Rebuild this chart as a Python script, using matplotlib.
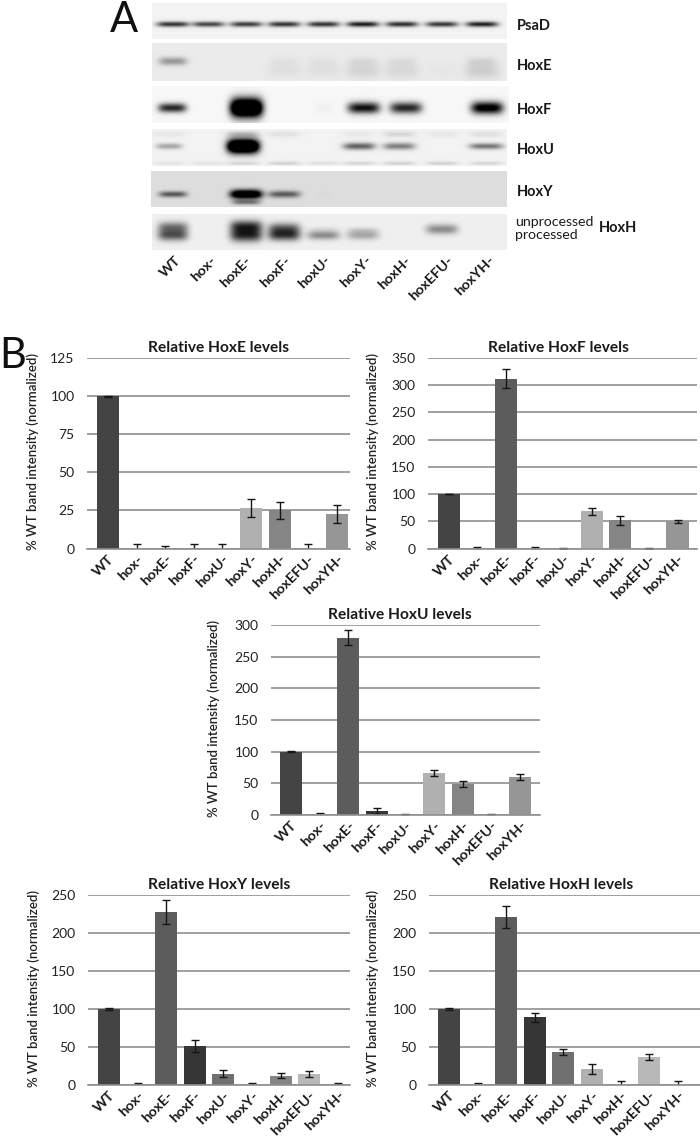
import numpy as np
import matplotlib
matplotlib.use('Agg')
import matplotlib.pyplot as plt

plt.rcParams['font.family'] = ['Lato', 'DejaVu Sans']

W, H = 700, 1139

strains = ['WT', 'hox-', 'hoxE-', 'hoxF-', 'hoxU-', 'hoxY-', 'hoxH-', 'hoxEFU-', 'hoxYH-']
bar_colors = ['#444444', '#555555', '#5c5c5c', '#363636', '#707070', '#b0b0b0', '#858585', '#b8b8b8', '#969696']

# bar chart values
hoxe_vals = [100, 0, 0, 0, 0, 26.5, 25, 0, 22.5]
hoxe_errs = [0.3, 2.8, 1.8, 3, 3, 6, 5.5, 3, 6]
hoxf_vals = [100, 0, 312, 0, 0, 68, 52, 0, 50]
hoxf_errs = [0.5, 3, 18, 3, 1, 7, 8, 1, 3]
hoxu_vals = [100, 0, 280, 6, 0, 66, 49, 0, 60]
hoxu_errs = [0.5, 3, 12, 5, 1.5, 5, 4, 1, 5]
hoxy_vals = [100, 0, 228, 51, 15, 0, 12.5, 14, 0]
hoxy_errs = [1, 2, 16, 8, 5, 3, 3, 4, 2]
hoxh_vals = [100, 0, 221, 89, 43, 21, 0, 37, 0]
hoxh_errs = [1, 2.5, 15, 6, 4, 6, 5.5, 3.5, 5.5]

hoxe_ticks = [0, 25, 50, 75, 100, 125]
hoxf_ticks = [0, 50, 100, 150, 200, 250, 300, 350]
hoxu_ticks = [0, 50, 100, 150, 200, 250, 300]
hoxy_ticks = [0, 50, 100, 150, 200, 250]
hoxh_ticks = [0, 50, 100, 150, 200, 250]

# band darkness per lane for the blots, 0 = nothing, above 1 saturates
psad_bands = [0.8, 0.72, 0.76, 0.8, 0.8, 0.9, 0.82, 0.78, 0.88]
hoxe_bands = [0.36, 0, 0, 0.03, 0.03, 0.06, 0.05, 0, 0.08]
hoxe_smear = [0, 0, 0, 0.05, 0.05, 0.1, 0.08, 0.02, 0.13]
hoxf_bands = [0.85, 0, 1.9, 0, 0.03, 0.95, 0.85, 0, 1.1]
hoxu_bands = [0.32, 0, 1.9, 0, 0, 0.6, 0.48, 0, 0.52]
hoxu_lower = [0.06, 0.06, 0.12, 0.14, 0.08, 0.12, 0.14, 0.14, 0.12]
hoxu_upper = [0.05, 0, 0.2, 0.07, 0, 0.04, 0.12, 0.05, 0.08]
hoxy_bands = [0.62, 0, 1.5, 0.6, 0.02, 0, 0, 0, 0]
hoxy_lower = [0, 0, 0.45, 0, 0, 0, 0, 0, 0]
hoxh_unproc = [0.5, 0, 0.75, 0.55, 0.05, 0.12, 0, 0.42, 0]
hoxh_proc = [0.62, 0, 0.8, 0.72, 0.42, 0.3, 0, 0, 0]

lanes = [172.7, 208.3, 246, 284, 323.3, 362.7, 401.7, 441.7, 481.7]
lanes_f = [172, 208, 246, 284, 323, 363, 405, 442, 486]
lanes_u = [169, 208, 243, 284, 323, 359, 399, 442, 486]


def px_axes(fig, left, top, right, bottom, **kw):
    return fig.add_axes([left / W, 1 - bottom / H, (right - left) / W, (bottom - top) / H], **kw)


def blot(fig, box, bg, rows):
    left, top, right, bottom = box
    ax = px_axes(fig, left, top, right, bottom)
    xs, ys = np.meshgrid(np.arange(left, right, 0.5), np.arange(top, bottom, 0.5))
    img = np.zeros(xs.shape)
    for lane_x, vals, y, half_w, sig in rows:
        half_w = np.broadcast_to(half_w, (9,))
        sig = np.broadcast_to(sig, (9,))
        y = np.broadcast_to(y, (9,))
        for i in range(9):
            if vals[i] > 0:
                img += vals[i] * np.exp(-((xs - lane_x[i]) / half_w[i]) ** 4 - ((ys - y[i]) / sig[i]) ** 2)
    img = bg * (1 - np.clip(img, 0, 1))
    ax.imshow(img, cmap='gray', vmin=0, vmax=1, extent=(left, right, bottom, top), aspect='auto', interpolation='bilinear')
    ax.axis('off')


def bars(fig, box, wt_x, ymax, vals, errs, ticks, title, title_x, label_x):
    left, top, right, bottom = box
    ax = px_axes(fig, left, top, right, bottom)
    step = 28.6
    ax.set_xlim(-(wt_x - left) / step, (right - wt_x) / step)
    ax.set_ylim(0, ymax)
    ax.set_axisbelow(True)
    ax.grid(axis='y', color='#8f8f8f', lw=1.2)
    ax.bar(range(9), vals, width=0.77, color=bar_colors)
    ax.errorbar(range(9), vals, yerr=errs, fmt='none', ecolor='#151515', elinewidth=1.0, capsize=3, capthick=1.0)
    for s in ['top', 'right', 'left']:
        ax.spines[s].set_visible(False)
    ax.spines['bottom'].set_color('#8f8f8f')
    ax.spines['bottom'].set_linewidth(1.2)
    ax.set_yticks(ticks)
    ax.set_xticks(range(9))
    ax.set_xticklabels(strains, rotation=45, ha='right', va='top', rotation_mode='anchor',
                       fontsize=10.4, fontweight='bold', color='#1a1a1a')
    ax.tick_params(axis='both', length=0)
    ax.tick_params(axis='x', pad=3)
    ax.tick_params(axis='y', labelsize=10, labelcolor='#222222', pad=9)
    ax.set_title(title, fontsize=11.2, fontweight='bold', color='#1a1a1a', pad=4,
                 x=(title_x - left) / (right - left))
    ax.set_ylabel('% WT band intensity (normalized)', fontsize=9.5, fontweight='semibold', color='#222222')
    ax.yaxis.set_label_coords((label_x - left) / (right - left), 0.51)
    return ax


fig = plt.figure(figsize=(7, 11.39), dpi=100)

# panel A
blot(fig, (152, 3, 507, 39), 0.95, [(lanes, psad_bands, 24, 16, 2.6)])
blot(fig, (152, 43, 507, 81), 0.92, [(lanes, hoxe_bands, 61, 14, 4),
                                     (lanes, hoxe_smear, 70, 17, 8)])
blot(fig, (152, 86, 508, 123), 0.97, [(lanes_f, hoxf_bands, 108,
                                       [14, 1, 16, 1, 10, 16, 16, 1, 16],
                                       [4.5, 1, 9, 1, 5, 5.5, 5.5, 1, 6])])
blot(fig, (152, 129, 507, 166), 0.95, [(lanes_u, hoxu_bands, 146,
                                        [13, 1, 16, 1, 1, 16, 16, 1, 17],
                                        [3, 1, 7, 1, 1, 3.5, 3.5, 1, 3]),
                                       (lanes_u, hoxu_lower, 163, 16, 1.8),
                                       (lanes_u, hoxu_upper, 134, 16, 3)])
blot(fig, (151, 171, 507, 207), 0.87, [(lanes, hoxy_bands, 194,
                                        [14, 1, 16, 16, 8, 1, 1, 1, 1],
                                        [3, 1, 4.5, 3.5, 3, 1, 1, 1, 1]),
                                       (lanes, hoxy_lower, 202, 14, 2.5)])
blot(fig, (152, 214, 507, 250), 0.94, [(lanes, hoxh_unproc, [227, 0, 226, 228, 229, 230, 0, 229, 0],
                                        [15, 1, 16, 16, 15, 15, 1, 16, 1],
                                        [5.5, 1, 6, 5.5, 3, 3, 1, 5, 1]),
                                       (lanes, hoxh_proc, 235,
                                        [15, 1, 16, 16, 16, 16, 1, 1, 1],
                                        [5.5, 1, 6.5, 5.5, 4.5, 4.5, 1, 1, 1])])

# panel B
bars(fig, (87, 358, 350, 548.5), 108, 125, hoxe_vals, hoxe_errs, hoxe_ticks, 'Relative HoxE levels', 219, 39)
bars(fig, (428, 358, 697, 548.5), 448.7, 350, hoxf_vals, hoxf_errs, hoxf_ticks, 'Relative HoxF levels', 558, 379)
bars(fig, (271, 625, 540, 815), 291, 300, hoxu_vals, hoxu_errs, hoxu_ticks, 'Relative HoxU levels', 400, 220)
bars(fig, (88, 895, 350, 1085), 109, 250, hoxy_vals, hoxy_errs, hoxy_ticks, 'Relative HoxY levels', 219.5, 40)
bars(fig, (429, 895, 700, 1085), 449, 250, hoxh_vals, hoxh_errs, hoxh_ticks, 'Relative HoxH levels', 560.7, 379)

# overlay in pixel coordinates for the loose labels
over = fig.add_axes([0, 0, 1, 1], facecolor='none')
over.set_xlim(0, W)
over.set_ylim(H, 0)
over.axis('off')

over.text(110, 32, 'A', fontsize=30, va='baseline', ha='left', color='#111111')
over.text(-1, 368, 'B', fontsize=30, va='baseline', ha='left', color='#111111')

for txt, y in [('PsaD', 26), ('HoxE', 66), ('HoxF', 110), ('HoxU', 150), ('HoxY', 192)]:
    over.text(517, y, txt, fontsize=10.5, fontweight='bold', va='center', ha='left', color='#1a1a1a')
over.text(515, 222, 'unprocessed', fontsize=10.2, va='center', ha='left', color='#1a1a1a')
over.text(515, 235, 'processed', fontsize=10.2, va='center', ha='left', color='#1a1a1a')
over.text(599, 228, 'HoxH', fontsize=10.5, fontweight='bold', va='center', ha='left', color='#1a1a1a')

lane_label_x = [175, 210, 245, 285, 324, 365, 405, 447, 488]
for txt, x in zip(strains, lane_label_x):
    over.text(x, 254, txt, rotation=45, ha='right', va='top', rotation_mode='anchor',
              fontsize=10.4, fontweight='bold', color='#1a1a1a')

fig.savefig('out.png', dpi=100)
